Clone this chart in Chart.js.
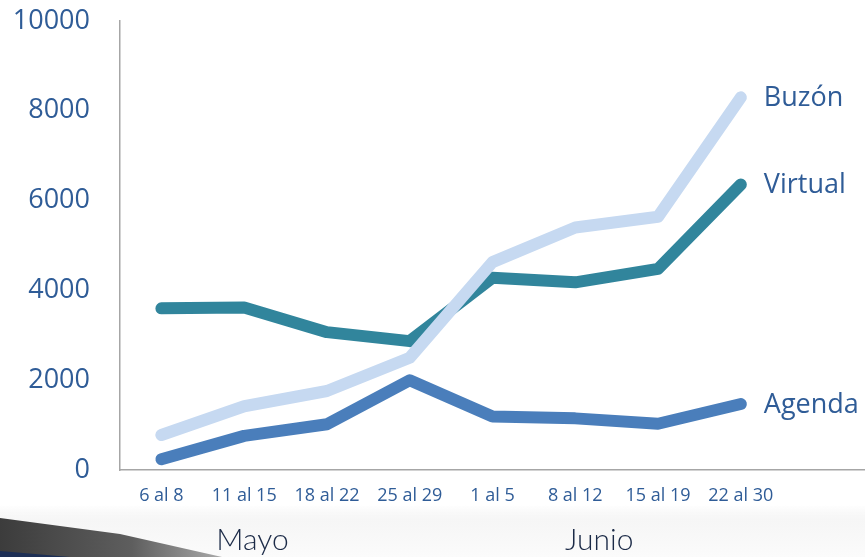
<!DOCTYPE html>
<html>
<head>
<meta charset="utf-8">
<script src="https://cdn.jsdelivr.net/npm/chart.js@4/dist/chart.umd.min.js"></script>
<style>
  html, body { margin: 0; padding: 0; background: #fff; }
  canvas { display: block; }
</style>
</head>
<body>
<canvas id="myChart" width="865" height="557"></canvas>
<script>
// weeks of May and June
const weeks = ['6 al 8', '11 al 15', '18 al 22', '25 al 29', '1 al 5', '8 al 12', '15 al 19', '22 al 30'];
const months = ['Mayo', 'Junio'];

const buzon   = [780, 1420, 1760, 2500, 4630, 5400, 5640, 8300];
const virtual = [3600, 3620, 3070, 2870, 4280, 4180, 4480, 6360];
const agenda  = [240, 760, 1020, 2000, 1190, 1150, 1030, 1470];

const yTicks = [0, 2000, 4000, 6000, 8000, 10000];

const TEXT_BLUE = '#2f5c97';
const FONT = '"Open Sans", "Noto Sans", sans-serif';

function toPoints(arr) {
  return arr.map((v, i) => ({ x: i, y: v }));
}

// grey band + swoosh at the bottom, behind everything
const backdrop = {
  id: 'backdrop',
  beforeDraw(chart) {
    const c = chart.ctx;
    const w = chart.width, h = chart.height;
    c.save();
    const g = c.createLinearGradient(0, 505, 0, h);
    g.addColorStop(0, 'rgba(240,240,240,0)');
    g.addColorStop(0.3, '#f6f6f6');
    g.addColorStop(1, '#fbfbfb');
    c.fillStyle = g;
    c.fillRect(0, 505, w, h - 505);

    const s = c.createLinearGradient(0, 0, 220, 0);
    s.addColorStop(0, '#3c3c3c');
    s.addColorStop(0.6, '#5e5e5e');
    s.addColorStop(1, '#a8a8a8');
    c.fillStyle = s;
    c.beginPath();
    c.moveTo(0, 518);
    c.lineTo(120, 534);
    c.lineTo(222, 557);
    c.lineTo(0, 557);
    c.closePath();
    c.fill();

    c.fillStyle = '#1d2f55';
    c.beginPath();
    c.moveTo(0, 551);
    c.lineTo(70, 557);
    c.lineTo(0, 557);
    c.closePath();
    c.fill();
    c.restore();
  }
};

// series names at the end of each line, month names under the axis
const endLabels = {
  id: 'endLabels',
  afterDatasetsDraw(chart) {
    const c = chart.ctx;
    c.save();
    c.font = '27px ' + FONT;
    c.fillStyle = TEXT_BLUE;
    c.textAlign = 'left';
    c.textBaseline = 'middle';
    chart.data.datasets.forEach((ds, i) => {
      const pts = chart.getDatasetMeta(i).data;
      const last = pts[pts.length - 1];
      c.fillText(ds.label, last.x + 23, last.y + 1);
    });

    const xs = chart.scales.x;
    const monthAt = [1.1, 5.29];
    c.font = '300 30px Lato, "Noto Sans", sans-serif';
    c.fillStyle = '#1b2a47';
    c.textAlign = 'center';
    months.forEach((m, i) => {
      c.fillText(m, xs.getPixelForValue(monthAt[i]), 540);
    });
    c.restore();
  }
};

new Chart(document.getElementById('myChart'), {
  type: 'line',
  data: {
    datasets: [
      { label: 'Buzón',   data: toPoints(buzon),   borderColor: '#c6d9f1', order: 0 },
      { label: 'Virtual', data: toPoints(virtual), borderColor: '#31859c', order: 1 },
      { label: 'Agenda',  data: toPoints(agenda),  borderColor: '#4a7ebb', order: 2 }
    ]
  },
  options: {
    responsive: false,
    animation: false,
    layout: { padding: { top: 21, right: 0, left: 0, bottom: 0 } },
    elements: {
      line: { borderWidth: 12, borderCapStyle: 'round', borderJoinStyle: 'round', tension: 0 },
      point: { radius: 0, hoverRadius: 0 }
    },
    plugins: {
      legend: { display: false },
      tooltip: { enabled: false }
    },
    scales: {
      x: {
        type: 'linear',
        min: -0.5,
        max: 8.5,
        afterBuildTicks(scale) {
          scale.ticks = weeks.map((_, i) => ({ value: i }));
        },
        afterFit(scale) { scale.height = 87; scale.paddingLeft = 0; scale.paddingRight = 0; },
        grid: { display: false, drawTicks: false },
        border: { display: true, color: '#a6a6a6', width: 1.5 },
        ticks: {
          autoSkip: false,
          maxRotation: 0,
          padding: 15,
          color: TEXT_BLUE,
          font: { family: FONT, size: 18 },
          callback: (v) => weeks[v]
        }
      },
      y: {
        min: 0,
        max: 10000,
        afterBuildTicks(scale) {
          scale.ticks = yTicks.map(v => ({ value: v }));
        },
        afterFit(scale) { scale.width = 120; scale.paddingTop = 0; scale.paddingBottom = 0; },
        grid: { display: false, drawTicks: false },
        border: { display: true, color: '#a6a6a6', width: 1.5 },
        ticks: {
          padding: 30,
          color: TEXT_BLUE,
          font: { family: FONT, size: 27 },
          callback: (v) => String(v)
        }
      }
    }
  },
  plugins: [backdrop, endLabels]
});
</script>
</body>
</html>
